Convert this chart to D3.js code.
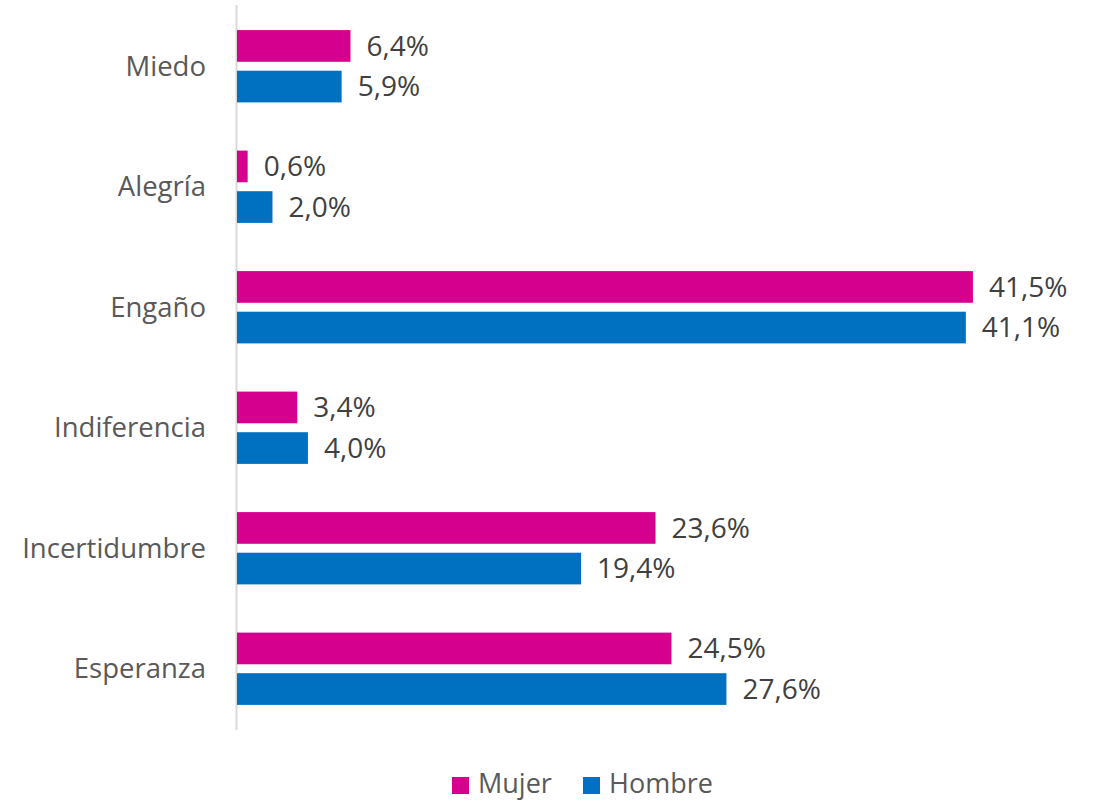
<!DOCTYPE html>
<html>
<head>
<meta charset="utf-8">
<script src="https://cdn.jsdelivr.net/npm/d3@7"></script>
<style>
  body { margin: 0; background: #fff; }
  svg text { font-family: "Open Sans", "Liberation Sans", sans-serif; }
</style>
</head>
<body>
<div id="chart"></div>
<script>
// categories, top to bottom
const categories = ["Miedo", "Alegría", "Engaño", "Indiferencia", "Incertidumbre", "Esperanza"];
const seriesNames = ["Mujer", "Hombre"];
const mujerValues = [6.4, 0.6, 41.5, 3.4, 23.6, 24.5];
const hombreValues = [5.9, 2.0, 41.1, 4.0, 19.4, 27.6];

const seriesColors = { "Mujer": "#D6008F", "Hombre": "#0070C0" };

const width = 1099, height = 803;

const svg = d3.select("#chart").append("svg")
    .attr("width", width)
    .attr("height", height);

// scales
const x = d3.scaleLinear().domain([0, 45]).range([237, 1035]);
const y = d3.scaleBand().domain(categories).range([6, 729])
    .paddingInner(0.4).paddingOuter(0.2);
const ySub = d3.scaleBand().domain(seriesNames).range([0, y.bandwidth()])
    .paddingInner(0.22);

const rows = categories.map((c, i) => ({
    category: c,
    values: [
        { name: "Mujer", value: mujerValues[i] },
        { name: "Hombre", value: hombreValues[i] }
    ]
}));

// axis line on the left
svg.append("line")
    .attr("x1", 236.5).attr("x2", 236.5)
    .attr("y1", 5).attr("y2", 730)
    .attr("stroke", "#d9d9d9")
    .attr("stroke-width", 2);

const groups = svg.selectAll("g.row")
    .data(rows)
    .join("g")
    .attr("class", "row")
    .attr("transform", d => `translate(0,${y(d.category)})`);

groups.selectAll("rect")
    .data(d => d.values)
    .join("rect")
    .attr("x", x(0))
    .attr("y", d => ySub(d.name))
    .attr("width", d => x(d.value) - x(0))
    .attr("height", ySub.bandwidth())
    .attr("fill", d => seriesColors[d.name]);

// value labels
groups.selectAll("text.val")
    .data(d => d.values)
    .join("text")
    .attr("class", "val")
    .attr("x", d => x(d.value) + 16)
    .attr("y", d => ySub(d.name) + ySub.bandwidth() / 2)
    .attr("dy", "0.35em")
    .attr("font-size", 28)
    .attr("fill", "#404040")
    .text(d => d.value.toFixed(1).replace(".", ",") + "%");

// category labels
svg.selectAll("text.cat")
    .data(categories)
    .join("text")
    .attr("class", "cat")
    .attr("x", 206)
    .attr("y", d => y(d) + y.bandwidth() / 2)
    .attr("dy", "0.35em")
    .attr("text-anchor", "end")
    .attr("font-size", 27.5)
    .attr("fill", "#595959")
    .text(d => d);

// legend
const legendX = [452, 583];
const legend = svg.selectAll("g.legend")
    .data(seriesNames)
    .join("g")
    .attr("class", "legend")
    .attr("transform", (d, i) => `translate(${legendX[i]},777)`);

legend.append("rect")
    .attr("width", 17)
    .attr("height", 17)
    .attr("fill", d => seriesColors[d]);

legend.append("text")
    .attr("x", 26)
    .attr("y", 7)
    .attr("dy", "0.35em")
    .attr("font-size", 27)
    .attr("fill", "#595959")
    .text(d => d);
</script>
</body>
</html>
